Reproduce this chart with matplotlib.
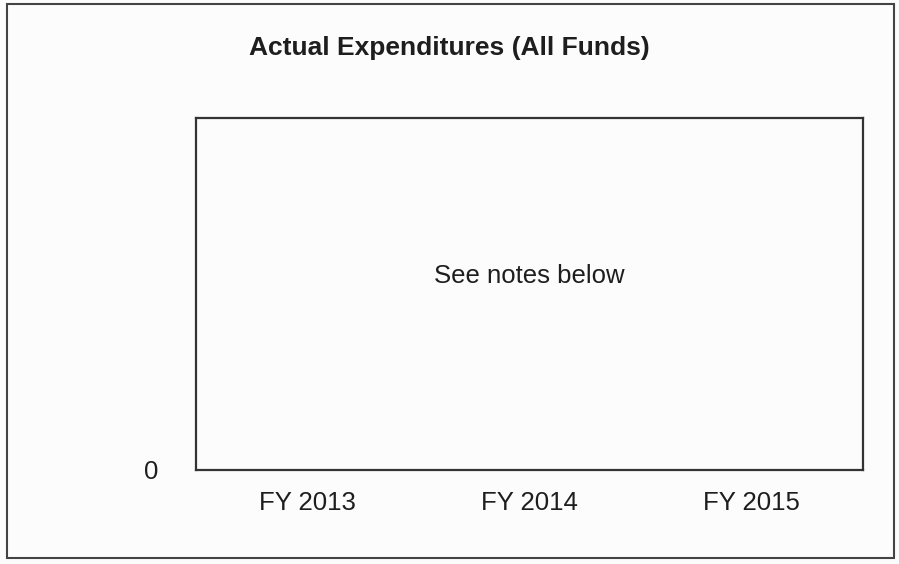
import matplotlib
matplotlib.use("Agg")
import matplotlib.pyplot as plt
from matplotlib.patches import Rectangle

plt.rcParams['font.family'] = ['Liberation Sans', 'DejaVu Sans']

years = ["FY 2013", "FY 2014", "FY 2015"]
spending = [0, 0, 0]
note = "See notes below"

fig = plt.figure(figsize=(8.99, 5.64), dpi=100)
ax = fig.add_axes([0.218, 0.167, 0.742, 0.624])
ax.set_facecolor("#fcfcfc")

ax.bar(range(len(years)), spending, width=0.5, color="#4a6fa5")
ax.set_xlim(-0.5, len(years) - 0.5)
ax.set_ylim(0, 1)
ax.set_xticks(range(len(years)))
ax.set_xticklabels(years, fontsize=18.5, color="#1e1e1e")
ax.set_yticks([0])
ax.set_yticklabels(["0"], fontsize=18.5, color="#1e1e1e")
ax.tick_params(axis="x", length=0, pad=15)
ax.tick_params(axis="y", length=0, pad=27)
for s in ax.spines.values():
    s.set_linewidth(1.6)
    s.set_color("#333333")

ax.text(0.5, 0.55, note, transform=ax.transAxes, ha="center", va="center",
        fontsize=18.5, color="#1e1e1e")

fig.text(0.5, 0.915, "Actual Expenditures (All Funds)", ha="center", va="center",
         fontsize=19, fontweight="bold", color="#1e1e1e")

# outer frame round the whole chart
fig.patches.append(Rectangle((0.008, 0.01), 0.986, 0.983, transform=fig.transFigure,
                             fill=False, edgecolor="#444444", linewidth=1.5))

fig.savefig("out.png", dpi=100, facecolor="#fcfcfc")
